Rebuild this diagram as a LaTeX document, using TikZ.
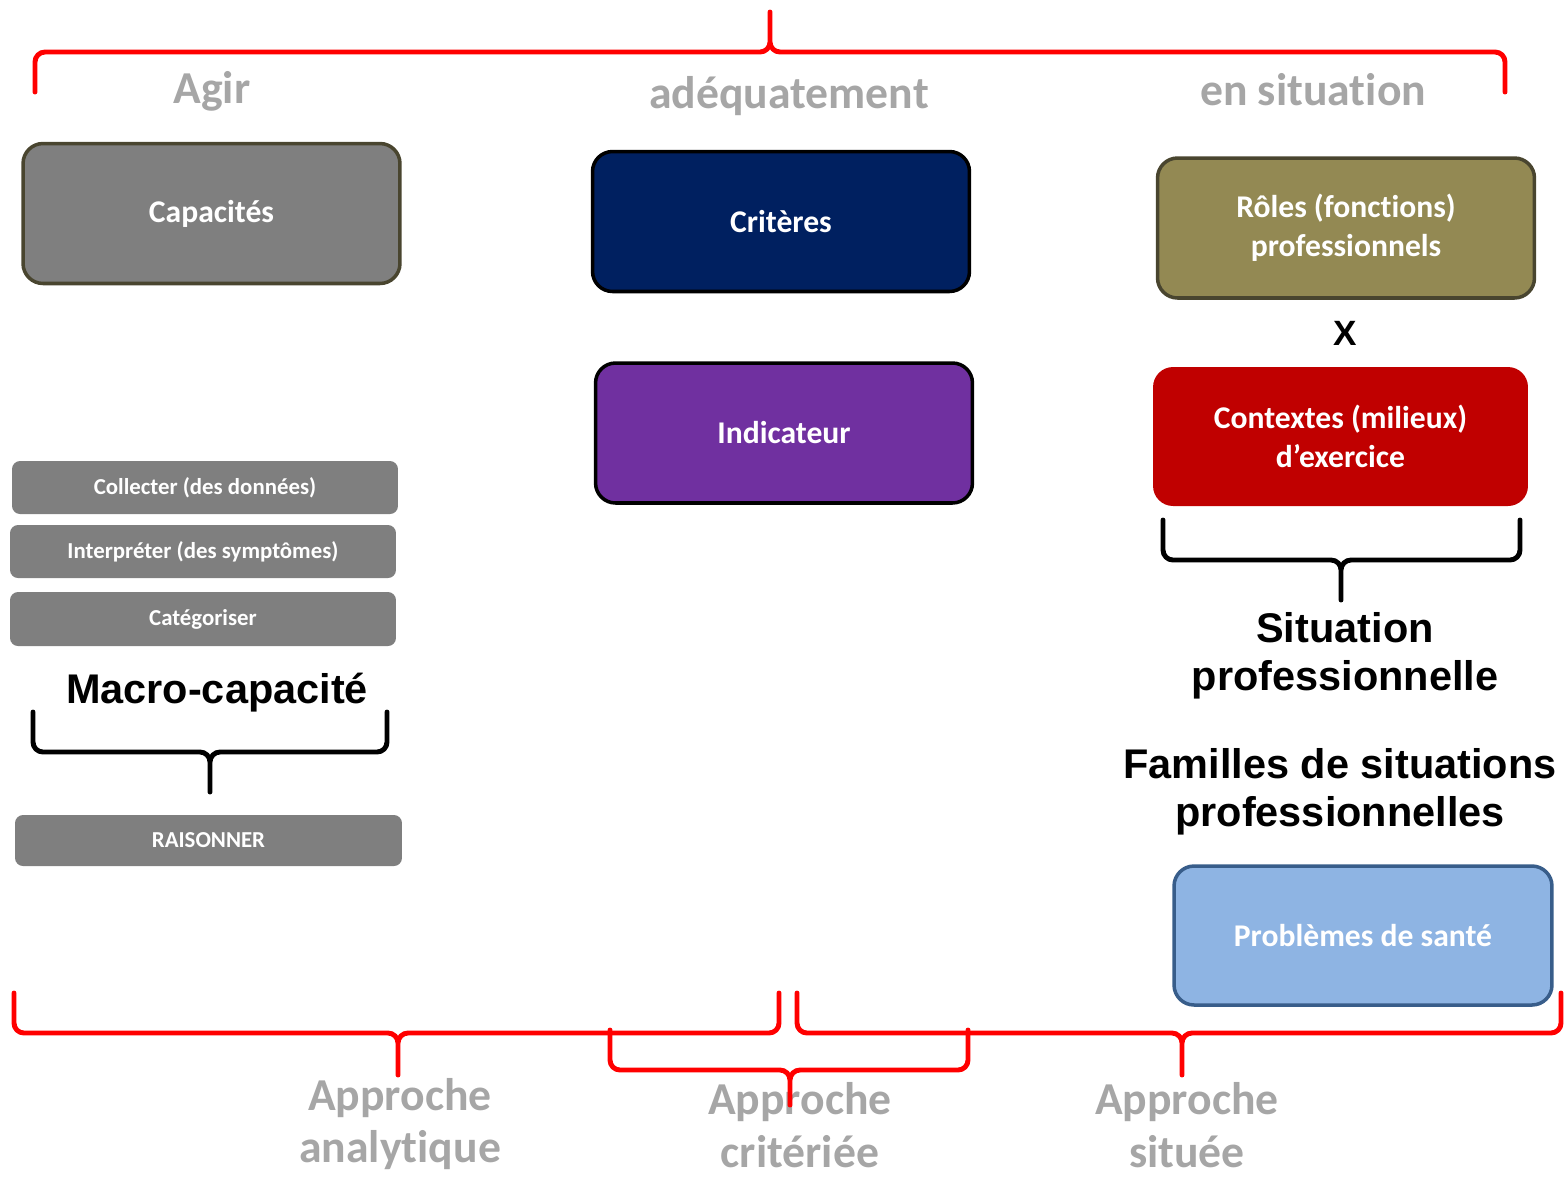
\documentclass[tikz,border=0pt]{standalone}
\usepackage{fontspec}
\setmainfont{Carlito}[Ligatures=NoCommon]
\newfontfamily\arialfont{Liberation Sans}
\usepackage{tikz}

\definecolor{boxgray}{HTML}{7F7F7F}
\definecolor{darkolive}{HTML}{49452F}
\definecolor{navy}{HTML}{002060}
\definecolor{violet}{HTML}{7030A0}
\definecolor{olive}{HTML}{938953}
\definecolor{darkred}{HTML}{C00000}
\definecolor{skyblue}{HTML}{8EB4E3}
\definecolor{steelblue}{HTML}{385D8A}
\definecolor{labelgray}{HTML}{A6A6A6}

\tikzset{
  bigbox/.style={rectangle, rounded corners=0.4cm, line width=2pt, inner sep=0pt,
    minimum width=7.54cm, minimum height=2.8cm, align=center, text=white,
    font=\bfseries\fontsize{18}{22}\selectfont},
  smallbox/.style={rectangle, rounded corners=0.16cm, fill=boxgray, inner sep=0pt,
    minimum width=7.72cm, minimum height=1.06cm, text=white,
    font=\bfseries\fontsize{13}{15}\selectfont},
  graylabel/.style={text=labelgray, align=center, inner sep=0pt,
    font=\bfseries\fontsize{26}{30}\selectfont},
  blacklabel/.style={align=center, inner sep=0pt,
    font=\arialfont\bfseries\fontsize{23.6}{27.2}\selectfont},
  redbrace/.style={draw=red, line width=2.8pt, rounded corners=0.2cm, line cap=round},
  blackbrace/.style={draw=black, line width=2.8pt, rounded corners=0.2cm, line cap=round}
}

\begin{document}
\begin{tikzpicture}[x=0.02cm, y=-0.02cm]
    \useasboundingbox (0,0) rectangle (1564,1178);

    % top labels
    \node[graylabel] (agir) at (212,91) {Agir};
    \node[graylabel] (adeq) at (789,96) {adéquatement};
    \node[graylabel] (ensit) at (1313,90) {en situation};

    % main boxes
    \node[bigbox, fill=boxgray, draw=darkolive] (capa) at (211.5,213.5) {Capacités};
    \node[bigbox, fill=navy, draw=black] (crit) at (781,221.5) {Critères};
    \node[bigbox, fill=violet, draw=black] (indic) at (784,433) {Indicateur};
    \node[bigbox, fill=olive, draw=darkolive] (roles) at (1346,228) {Rôles (fonctions)\\professionnels};
    \node[blacklabel, font=\arialfont\bfseries\fontsize{20}{24}\selectfont] (fois) at (1345,333) {X};
    \node[bigbox, fill=darkred, minimum width=7.5cm, minimum height=2.78cm] (ctx) at (1340.5,436.5) {Contextes (milieux)\\d’exercice};
    \node[blacklabel] (sitpro) at (1345,656) {Situation\\professionnelle};
    \node[blacklabel] (famil) at (1340,792) {Familles de situations\\professionnelles};
    \node[bigbox, fill=skyblue, draw=steelblue, minimum width=7.56cm, minimum height=2.78cm] (sante) at (1363,935.5) {Problèmes de santé};

    % capacities
    \node[smallbox] (collect) at (205,487.5) {Collecter (des données)};
    \node[smallbox] (interp) at (203,551.5) {Interpréter (des symptômes)};
    \node[smallbox, minimum height=1.08cm] (categ) at (203,619) {Catégoriser};
    \node[blacklabel] (macro) at (217,693) {Macro-capacité};
    \node[smallbox, minimum width=7.74cm, minimum height=1.02cm] (raison) at (208.5,840.5) {RAISONNER};

    % bottom labels
    \node[graylabel] (analyt) at (400,1124) {Approche\\analytique};
    \node[graylabel] (criter) at (800,1125) {Approche\\critériée};
    \node[graylabel] (situee) at (1187,1125) {Approche\\située};

    % braces
    \draw[redbrace] (35,92) |- (770,52) -- (770,12) (770,12) -- (770,52) -| (1505,92);
    \draw[blackbrace] (1163,520) |- (1341,560) -- (1341,600) (1341,600) -- (1341,560) -| (1520,520);
    \draw[blackbrace] (33,712) |- (210,752) -- (210,792) (210,792) -- (210,752) -| (387,712);
    \draw[redbrace] (14,993) |- (398,1033) -- (398,1075) (398,1075) -- (398,1033) -| (779,993);
    \draw[redbrace] (610,1030) |- (790,1070) -- (790,1105) (790,1105) -- (790,1070) -| (968,1030);
    \draw[redbrace] (797,993) |- (1182,1033) -- (1182,1075) (1182,1075) -- (1182,1033) -| (1561,993);
\end{tikzpicture}
\end{document}
